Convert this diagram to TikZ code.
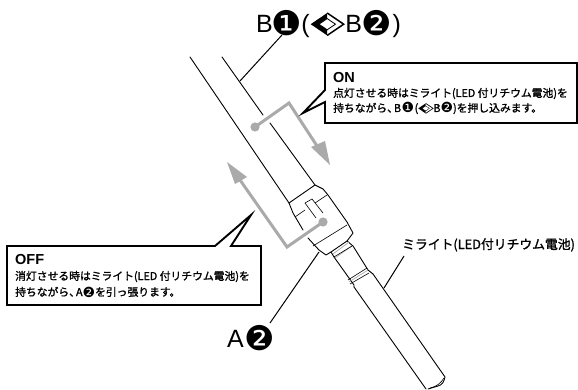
\documentclass[tikz,border=0pt]{standalone}
\usepackage{fontspec}
\setmainfont{Liberation Sans}
\newfontfamily\jp[FakeBold=1.4]{Noto Sans CJK JP}
\newfontfamily\dv{DejaVu Sans}
\newcommand{\swapmark}[2]{\begin{tikzpicture}[x=#1,y=.68*#1,baseline=#2,line width=.09*#1]
\fill[black] (-1,0)--(0,1)--(0,-1)--cycle;
\draw (0,1)--(1,0)--(0,-1);
\draw[line width=.05*#1,fill=white] (-.5,0)--(0,.5)--(.5,0)--(0,-.5)--cycle;
\end{tikzpicture}}
\newcommand{\cnbig}[1]{\raisebox{-3pt}{\dv\fontsize{34pt}{34pt}\selectfont #1}}
\newcommand{\cn}[1]{\raisebox{-1pt}{\dv\fontsize{14pt}{14pt}\selectfont #1}}
\definecolor{arrowgray}{RGB}{170,170,170}
\tikzset{
 tube/.style={line width=.9pt,black,line join=round,line cap=round},
 thin tube/.style={line width=.6pt,black},
 ring/.style={line width=.7pt,arrowgray},
 leader/.style={line width=1pt,black},
 callout/.style={draw=black,line width=1.9pt,fill=white,line join=miter},
 move/.style={draw=arrowgray,line width=3pt,line join=miter},
 arrowhead/.style={fill=arrowgray,draw=none},
 bigtext/.style={inner sep=0pt,anchor=base west,font=\fontsize{25pt}{25pt}\selectfont},
 title/.style={inner sep=0pt,anchor=west,font=\fontsize{14.5pt}{14.5pt}\selectfont\bfseries},
 body/.style={inner sep=0pt,anchor=base west,font=\fontsize{10.8pt}{11pt}\selectfont\jp},
}
\begin{document}
\begin{tikzpicture}[x=1pt,y=-1pt]
\useasboundingbox (0,0) rectangle (578,390);
% coordinates
\coordinate (tubeLa) at (190,57);
\coordinate (tubeLb) at (289,203);
\coordinate (tubeRa) at (222,57);
\coordinate (tubeRb) at (263,115);
\coordinate (tubeRc) at (270,123);
\coordinate (tubeRd) at (315,185);
% upper tube
\draw[tube] (tubeLa)--(tubeLb);
\draw[tube] (tubeRa)--(tubeRb);
\draw[tube] (tubeRc)--(tubeRd);
% collar
\draw[tube] (303,230)--(293,213)--(289,203)--(315,185)--(323,189)--(328,195)--(347,222)--(353,233)--(347,241)--(331,252)--(326,255)--(319,250)--(308,238);
\draw[thin tube] (295,217)--(305,210) (315,203)--(327,195);
\draw[thin tube] (313,246)--(347,225);
\draw[thin tube] (316,218)--(305,203)--(312,199)--(323,213);
% neck
\draw[tube] (331,252)--(334,257)--(354,285)--(354,287);
\draw[tube] (347,241)--(353,246)--(368,270)--(373,274);
\draw[ring] (333,254)--(349,242) (335,258)--(352,246);
\draw[thin tube] (334,257)--(352,246);
\draw[thin tube] (348,280)--(367,268);
\draw[ring] (349,282)--(368,270);
\draw[thin tube] (350,284)--(369,273);
% handle
\draw[tube] (354,287)--(426,389);
\draw[tube] (373,274)--(445,377) .. controls (444,382) and (442,385) .. (438,386) -- (428,389);
\draw[thin tube] (430,388) .. controls (436,387) and (441,383) .. (444,378);
% grey arrows
\fill[arrowgray] (255,127) circle (4.6);
\coordinate (onDot) at (255,127);
\coordinate (onBend) at (289,103);
\coordinate (onEnd) at (319,149);
\draw[move] (onDot)--(onBend)--(onEnd);
\fill[arrowhead] (311,147)--(325,141)--(330,165)--cycle;
\fill[arrowgray] (323,222) circle (4.6);
\coordinate (offDot) at (323,222);
\coordinate (offBend) at (287,247);
\coordinate (offEnd) at (240,180);
\draw[move] (offDot)--(offBend)--(offEnd);
\fill[arrowhead] (235,184)--(247,177)--(227,162)--cycle;
% callouts
\draw[callout] (325,63)--(577,63)--(577,123)--(325,123)--(325,102)--(303,113)--(325,90)--cycle;
\draw[callout] (7,246)--(215,246)--(251,215)--(231,246)--(261,246)--(261,305)--(7,305)--cycle;
% labels
\node[bigtext] (blabel) at (256,33) {B\hspace{-1pt}\cnbig{❶}\hspace{-1pt}(\hspace{1pt}\swapmark{16.5pt}{-8.8pt}\hspace{1pt}B\hspace{-1pt}\cnbig{❷}\hspace{1pt})};
\node[bigtext] (alabel) at (227,347) {A\hspace{1pt}\cnbig{❷}};
\node[title] (ontitle) at (333,78) {ON};
\node[body] (onl1) at (333,97) {点灯させる時はミライト(LED 付リチウム電池)を};
\node[body] (onl2) at (333,112) {持ちながら、\hspace{-4pt}B\hspace{.5pt}\cn{❶}\hspace{.5pt}(\swapmark{7.4pt}{-3.6pt}B\cn{❷})を押し込みます。};
\node[title] (offtitle) at (15,260) {OFF};
\node[body] (offl1) at (15,280) {消灯させる時はミライト(LED 付リチウム電池)を};
\node[body] (offl2) at (15,296) {持ちながら、\hspace{-4pt}A\cn{❷}を引っ張ります。};
\node[inner sep=0pt,anchor=base west,font=\fontsize{12.8pt}{13pt}\selectfont\jp] (mlabel) at (402,249) {ミライト(LED付リチウム電池)};
% leaders
\coordinate (bfoot) at (240,81);
\coordinate (afoot) at (319,252);
\coordinate (aend) at (270,323);
\coordinate (mtop) at (404,256);
\coordinate (mfoot) at (384,288);
\draw[leader] (282,35)--(bfoot);
\draw[leader] (afoot)--(aend);
\draw[leader] (mtop)--(mfoot);
\end{tikzpicture}
\end{document}
